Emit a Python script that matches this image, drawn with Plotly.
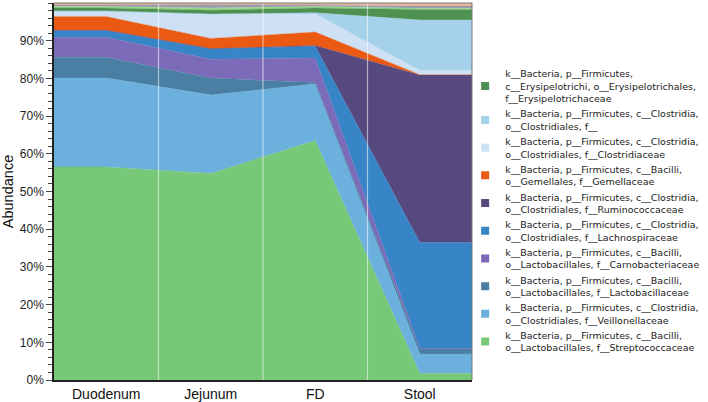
import plotly.graph_objects as go

categories = ["Duodenum", "Jejunum", "FD", "Stool"]

# abundance (%) per category, bottom of stack first
streptococcaceae   = [56.5, 54.8, 63.5, 1.8]
veillonellaceae    = [23.6, 20.8, 15.0, 5.1]
lactobacillaceae   = [5.5, 4.5, 0.4, 1.3]
carnobacteriaceae  = [5.3, 5.0, 6.5, 0.2]
lachnospiraceae    = [1.8, 2.7, 3.1, 28.1]
ruminococcaceae    = [0.1, 0.1, 0.2, 44.4]
gemellaceae        = [3.6, 2.7, 3.6, 0.1]
clostridiaceae     = [1.3, 6.3, 4.8, 1.1]
clostridiales_f    = [0.2, 0.2, 0.3, 13.4]
erysipelotrichaceae = [0.8, 1.0, 1.3, 2.8]
other_a            = [0.4, 0.6, 0.4, 0.3]
other_b            = [0.4, 0.7, 0.4, 0.6]
other_c            = [0.5, 0.6, 0.5, 0.8]

series = [
    ("k__Bacteria, p__Firmicutes, c__Bacilli,<br>o__Lactobacillales, f__Streptococcaceae", streptococcaceae, "#77c877", True),
    ("k__Bacteria, p__Firmicutes, c__Clostridia,<br>o__Clostridiales, f__Veillonellaceae", veillonellaceae, "#6cb0de", True),
    ("k__Bacteria, p__Firmicutes, c__Bacilli,<br>o__Lactobacillales, f__Lactobacillaceae", lactobacillaceae, "#4a7fa3", True),
    ("k__Bacteria, p__Firmicutes, c__Bacilli,<br>o__Lactobacillales, f__Carnobacteriaceae", carnobacteriaceae, "#7c6bb8", True),
    ("k__Bacteria, p__Firmicutes, c__Clostridia,<br>o__Clostridiales, f__Lachnospiraceae", lachnospiraceae, "#3784c6", True),
    ("k__Bacteria, p__Firmicutes, c__Clostridia,<br>o__Clostridiales, f__Ruminococcaceae", ruminococcaceae, "#55497f", True),
    ("k__Bacteria, p__Firmicutes, c__Bacilli,<br>o__Gemellales, f__Gemellaceae", gemellaceae, "#ea5a12", True),
    ("k__Bacteria, p__Firmicutes, c__Clostridia,<br>o__Clostridiales, f__Clostridiaceae", clostridiaceae, "#cde0f4", True),
    ("k__Bacteria, p__Firmicutes, c__Clostridia,<br>o__Clostridiales, f__", clostridiales_f, "#a5d2ea", True),
    ("k__Bacteria, p__Firmicutes,<br>c__Erysipelotrichi, o__Erysipelotrichales,<br>f__Erysipelotrichaceae", erysipelotrichaceae, "#4e9150", True),
    ("other a", other_a, "#9bd88c", False),
    ("other b", other_b, "#9a9aae", False),
    ("other c", other_c, "#ecb89c", False),
]

# positions: each category occupies a band; areas extend flat to band edges
xc = list(range(len(categories)))
xs = [xc[0] - 0.5] + xc + [xc[-1] + 0.5]

fig = go.Figure()
for name, vals, color, _ in series:
    ys = [v / 100 for v in [vals[0]] + vals + [vals[-1]]]
    fig.add_trace(go.Scatter(
        x=xs, y=ys, mode="lines", stackgroup="one",
        line=dict(width=0.4, color=color), fillcolor=color,
        name=name, showlegend=False, hoverinfo="skip"))

# legend entries (square markers), top of stack first
for name, vals, color, show in reversed(series):
    if not show:
        continue
    fig.add_trace(go.Scatter(
        x=[None], y=[None], mode="markers",
        marker=dict(symbol="square", size=8, color=color),
        name=name, showlegend=True))

shapes = []
for b in [0.5, 1.5, 2.5]:
    shapes.append(dict(type="line", xref="x", yref="paper", x0=b, x1=b, y0=0, y1=1,
                       line=dict(color="rgba(255,255,255,0.55)", width=1.2), layer="above"))
shapes.append(dict(type="line", xref="paper", yref="paper", x0=0, x1=1, y0=1, y1=1,
                   line=dict(color="#777777", width=1), layer="above"))
shapes.append(dict(type="line", xref="paper", yref="paper", x0=1, x1=1, y0=0, y1=1,
                   line=dict(color="#777777", width=1), layer="above"))

fig.update_layout(
    width=708, height=402,
    margin=dict(l=54, r=236, t=3, b=22, autoexpand=False),
    paper_bgcolor="white", plot_bgcolor="white",
    font=dict(family="Liberation Sans, Arial, sans-serif", color="#222222"),
    shapes=shapes,
    showlegend=True,
    legend=dict(
        xref="container", yref="paper", x=0.657, y=0.846,
        xanchor="left", yanchor="top",
        font=dict(family="DejaVu Sans, Liberation Sans, sans-serif", size=9.5, color="#222222"),
        bgcolor="rgba(0,0,0,0)", traceorder="normal", itemwidth=30,
    ),
)
fig.update_xaxes(
    range=[-0.5, 3.5], tickvals=xc, ticktext=categories,
    showgrid=False, zeroline=False, ticks="", automargin=False,
    showline=True, linecolor="#222222", linewidth=1.5,
    tickfont=dict(size=14, color="#111111"), ticklabelstandoff=0,
)
fig.update_yaxes(
    range=[0, 1.0], tickvals=[i / 10 for i in range(10)], tickformat=".0%",
    showgrid=False, zeroline=False, automargin=False,
    showline=True, linecolor="#222222", linewidth=1.5,
    ticks="outside", ticklen=6, tickcolor="#444444",
    minor=dict(dtick=0.02, ticks="outside", ticklen=4, tickcolor="#444444"),
    tickfont=dict(size=12, color="#222222"),
    title=dict(text="Abundance", font=dict(size=14.5, color="#111111"), standoff=6),
)

fig.write_html("out.html", config={"displayModeBar": False},
               post_script="document.body.style.margin='0';document.body.style.overflow='hidden';")
